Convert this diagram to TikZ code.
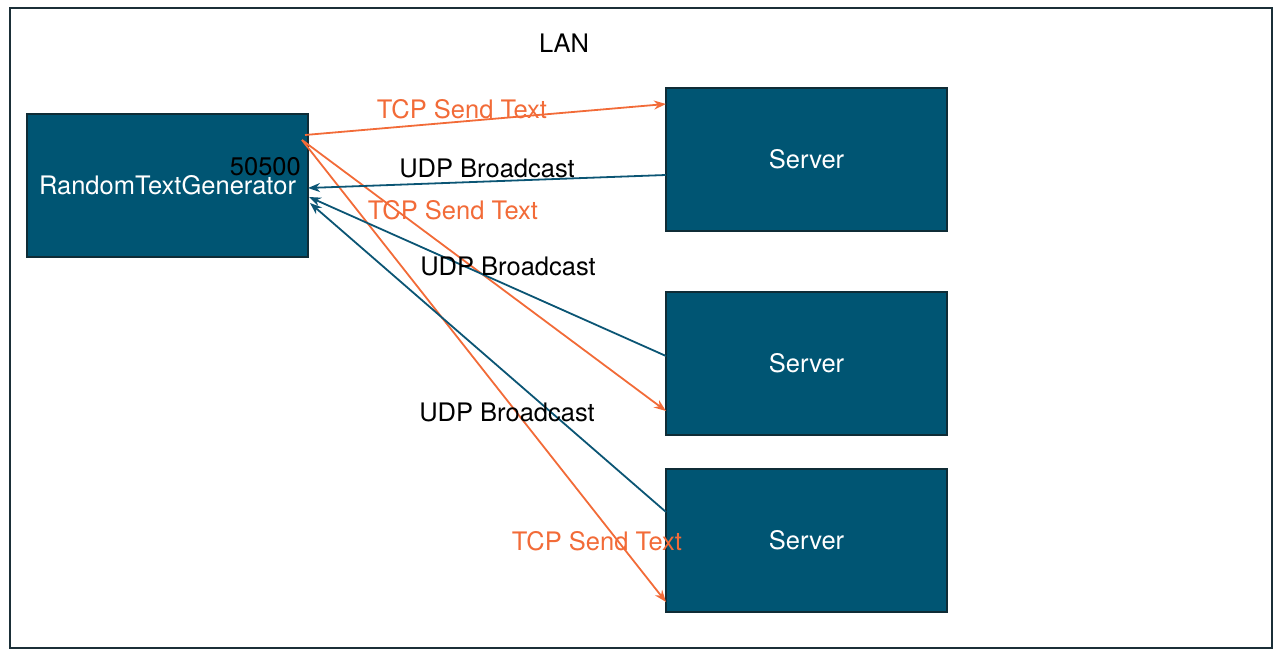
\documentclass[tikz,border=0pt]{standalone}
\usepackage{fontspec}
\setmainfont{TeX Gyre Heros}
\usetikzlibrary{positioning,arrows.meta,calc}
\definecolor{boxfill}{HTML}{005573}
\definecolor{boxline}{HTML}{0F2C36}
\definecolor{tcpcol}{HTML}{F26B38}
\definecolor{udpcol}{HTML}{0B5574}
\definecolor{framecol}{HTML}{1B2F38}
\tikzset{
host/.style={
  rectangle, draw=boxline, fill=boxfill, line width=1.5pt,
  text=white, inner sep=0pt, outer sep=0pt,
  minimum width=281pt, minimum height=143pt,
  font=\fontsize{25.5}{30}\selectfont
  },
tcp/.style={
  draw=tcpcol, line width=1.8pt, -{Stealth[length=12pt,width=9pt]}
  },
udp/.style={
  draw=udpcol, line width=1.8pt, -{Stealth[length=12pt,width=9pt]}
  },
lbl/.style={
  inner sep=0pt, font=\fontsize{25.5}{30}\selectfont
  }
}

\begin{document}
\begin{tikzpicture}[x=1pt,y=1pt]
\useasboundingbox (0,0) rectangle (1288,662);

% frame

\draw[framecol, line width=2pt] (9.5,14.5) rectangle (1272,653.5);
\node[lbl] (lan) at (564,619) {LAN};

% hosts

\node[host] (gen) at (167.5,476.5) {RandomTextGenerator};
\node[host] (srv1) at (806.5,502.5) {Server};
\node[host, below=61pt of srv1] (srv2) {Server};
\node[host, below=34pt of srv2] (srv3) {Server};

\node[lbl, anchor=east] (port) at (301,495.5) {50500};

% tcp

\coordinate (gen-t1) at ($(gen.north east)+(-3,-21)$);
\coordinate (gen-t2) at ($(gen.north east)+(-6,-26)$);

\draw[tcp] (gen-t1) -- ([yshift=-16pt]srv1.north west);
\draw[tcp] (gen-t2) -- ([yshift=24pt]srv2.south west);
\draw[tcp] (gen-t2) -- ([yshift=10pt]srv3.south west);

% udp

\draw[udp] ([yshift=-15.5pt]srv1.west) -- ([yshift=-2.5pt]gen.east);
\draw[udp] ([yshift=7.5pt]srv2.west) -- ([shift={(1pt,-11.5pt)}]gen.east);
\draw[udp] ([yshift=28.5pt]srv3.west) -- ([shift={(2pt,-17.5pt)}]gen.east);

% labels

\node[lbl, text=tcpcol] (tcp1) at (462,553) {TCP Send Text};
\node[lbl, text=tcpcol] (tcp2) at (453,452) {TCP Send Text};
\node[lbl, text=tcpcol] (tcp3) at (597,121) {TCP Send Text};

\node[lbl] (udp1) at (487,494) {UDP Broadcast};
\node[lbl] (udp2) at (508,396) {UDP Broadcast};
\node[lbl] (udp3) at (507,250) {UDP Broadcast};

\end{tikzpicture}
\end{document}
